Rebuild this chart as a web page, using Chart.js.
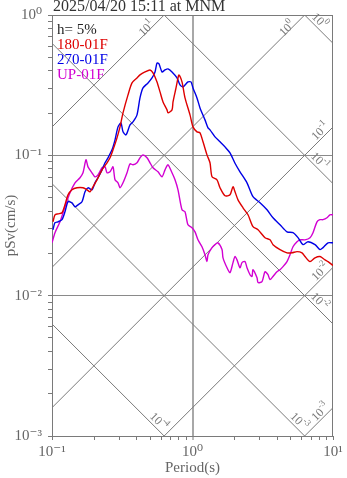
<!DOCTYPE html>
<html>
<head>
<meta charset="utf-8">
<title>pSv spectrum</title>
<script src="https://cdn.jsdelivr.net/npm/chart.js@4/dist/chart.umd.min.js"></script>
<style>
html, body { margin: 0; padding: 0; background: #fff; }
canvas { display: block; }
</style>
</head>
<body>
<canvas id="spectre" width="347" height="478"></canvas>
<script>
// station / event header
var titre = "2025/04/20 15:11 at MNM";
var amortissement = "h= 5%";

// 180-01F component
var periodes180 = [0.1016, 0.1050, 0.1103, 0.1178, 0.1237, 0.1300, 0.1388, 0.1506, 0.1662, 0.1775, 0.1864, 0.1958, 0.2090, 0.2269, 0.2464, 0.2588, 0.2718, 0.2902, 0.3048, 0.3202, 0.3475, 0.3711, 0.4027, 0.4229, 0.4591, 0.4984, 0.5236, 0.5590, 0.5872, 0.6168, 0.6586, 0.6695, 0.7148, 0.7266, 0.7632, 0.7886, 0.8016, 0.8419, 0.8843, 0.9599, 1.008, 1.076, 1.131, 1.188, 1.268, 1.332, 1.377, 1.494, 1.570, 1.704, 1.849, 1.942, 2.007, 2.108, 2.288, 2.483, 2.696, 2.927, 3.281, 3.562, 3.741, 4.196, 4.705, 5.108, 5.544, 6.017, 6.320, 6.861, 7.446, 8.082, 8.773, 9.214, 10.0];
var sv180 = [0.0336, 0.0377, 0.0383, 0.0390, 0.0444, 0.0523, 0.0568, 0.0587, 0.0587, 0.0568, 0.0550, 0.0597, 0.0669, 0.0788, 0.0885, 0.0960, 0.1094, 0.1332, 0.1595, 0.2006, 0.2695, 0.3281, 0.3560, 0.3741, 0.3929, 0.4060, 0.3865, 0.3335, 0.2831, 0.2402, 0.2108, 0.2006, 0.2108, 0.2402, 0.3022, 0.3560, 0.3741, 0.3335, 0.2566, 0.1942, 0.1595, 0.1470, 0.1446, 0.1248, 0.1008, 0.0885, 0.0703, 0.0669, 0.0587, 0.0515, 0.0523, 0.0597, 0.0550, 0.0482, 0.0423, 0.0377, 0.0310, 0.0295, 0.0259, 0.0250, 0.0231, 0.0213, 0.0202, 0.0202, 0.0206, 0.0202, 0.0190, 0.0175, 0.0186, 0.0190, 0.0180, 0.0175, 0.0164];

// 270-01F component
var periodes270 = [0.1016, 0.1050, 0.1103, 0.1178, 0.1237, 0.1300, 0.1388, 0.1458, 0.1531, 0.1635, 0.1718, 0.1804, 0.1926, 0.2023, 0.2125, 0.2269, 0.2384, 0.2504, 0.2673, 0.2809, 0.2950, 0.3098, 0.3202, 0.3363, 0.3591, 0.3771, 0.4027, 0.4229, 0.4443, 0.4823, 0.5150, 0.5410, 0.5590, 0.5777, 0.6068, 0.6373, 0.6695, 0.7148, 0.7758, 0.8147, 0.8558, 0.9290, 0.9757, 1.008, 1.076, 1.131, 1.227, 1.289, 1.332, 1.446, 1.570, 1.704, 1.849, 2.007, 2.178, 2.443, 2.696, 3.023, 3.391, 3.741, 4.196, 4.705, 5.192, 5.636, 6.116, 6.638, 7.446, 8.082, 8.489, 9.214, 10.0];
var sv270 = [0.0295, 0.0331, 0.0336, 0.0348, 0.0396, 0.0467, 0.0459, 0.0430, 0.0444, 0.0467, 0.0550, 0.0587, 0.0568, 0.0637, 0.0692, 0.0788, 0.0885, 0.0960, 0.1094, 0.1289, 0.1595, 0.1703, 0.1470, 0.1399, 0.1648, 0.1731, 0.1942, 0.2566, 0.3022, 0.3281, 0.3560, 0.3929, 0.4553, 0.4479, 0.3929, 0.4060, 0.4127, 0.3929, 0.3560, 0.3175, 0.3073, 0.3335, 0.3335, 0.3022, 0.2566, 0.2178, 0.1789, 0.1569, 0.1518, 0.1354, 0.1248, 0.1149, 0.1041, 0.0878, 0.0763, 0.0637, 0.0507, 0.0459, 0.0409, 0.0359, 0.0320, 0.0285, 0.0281, 0.0259, 0.0231, 0.0242, 0.0231, 0.0213, 0.0220, 0.0238, 0.0238];

// UP-01F component
var periodesUP = [0.100, 0.1050, 0.1140, 0.1237, 0.1343, 0.1458, 0.1582, 0.1662, 0.1746, 0.1804, 0.1926, 0.2023, 0.2125, 0.2269, 0.2384, 0.2464, 0.2588, 0.2718, 0.2809, 0.2950, 0.3048, 0.3202, 0.3419, 0.3591, 0.3771, 0.4027, 0.4229, 0.4443, 0.4745, 0.4984, 0.5236, 0.5683, 0.6068, 0.6373, 0.6695, 0.7148, 0.7508, 0.7886, 0.8419, 0.8843, 0.9290, 0.9918, 1.042, 1.094, 1.168, 1.227, 1.268, 1.289, 1.377, 1.446, 1.519, 1.622, 1.649, 1.761, 1.849, 1.942, 2.007, 2.074, 2.178, 2.251, 2.364, 2.443, 2.567, 2.652, 2.696, 2.879, 2.927, 3.124, 3.281, 3.447, 3.562, 3.741, 3.993, 4.196, 4.407, 4.705, 4.943, 5.192, 5.544, 5.823, 6.320, 6.861, 7.206, 7.693, 8.082, 8.489, 9.065, 9.520, 10.0];
var svUP = [0.0238, 0.0281, 0.0336, 0.0430, 0.0541, 0.0637, 0.0692, 0.0751, 0.0929, 0.0828, 0.0751, 0.0703, 0.0726, 0.0815, 0.0828, 0.0751, 0.0763, 0.0828, 0.0669, 0.0637, 0.0587, 0.0637, 0.0751, 0.0870, 0.0856, 0.0885, 0.0960, 0.1008, 0.0960, 0.0885, 0.0815, 0.0763, 0.0703, 0.0788, 0.0856, 0.0751, 0.0669, 0.0568, 0.0409, 0.0396, 0.0320, 0.0305, 0.0285, 0.0250, 0.0223, 0.0196, 0.0175, 0.0196, 0.0220, 0.0231, 0.0238, 0.0213, 0.0186, 0.0158, 0.0146, 0.0172, 0.0190, 0.0180, 0.0158, 0.0172, 0.0175, 0.0158, 0.0141, 0.0137, 0.0153, 0.0134, 0.0124, 0.0126, 0.0148, 0.0141, 0.0130, 0.0137, 0.0148, 0.0153, 0.0161, 0.0175, 0.0196, 0.0223, 0.0242, 0.0250, 0.0250, 0.0259, 0.0281, 0.0336, 0.0348, 0.0348, 0.0359, 0.0377, 0.0377];

// axis ticks
var ticksPeriode = [0.1, 0.2, 0.3, 0.4, 0.5, 0.6, 0.7, 0.8, 0.9, 1, 2, 3, 4, 5, 6, 7, 8, 9, 10];
var ticksSv = [0.001, 0.002, 0.003, 0.004, 0.005, 0.006, 0.007, 0.008, 0.009,
               0.01, 0.02, 0.03, 0.04, 0.05, 0.06, 0.07, 0.08, 0.09,
               0.1, 0.2, 0.3, 0.4, 0.5, 0.6, 0.7, 0.8, 0.9, 1];

// tripartite guide lines: displacement (cm) and acceleration (cm/s2)
var niveauxDepl = [1e-4, 1e-3, 1e-2, 1e-1, 1];
var niveauxAcc = [1e-3, 1e-2, 1e-1, 1, 10];

var SERIF = '"Liberation Serif", "DejaVu Serif", serif';
var GRIS = '#7a7a7a';
var EXPOSANTS = { '-': '\u207B', '0': '\u2070', '1': '\u00B9', '2': '\u00B2', '3': '\u00B3', '4': '\u2074' };

function estDecade(v) {
    var l = Math.log10(v);
    return Math.abs(l - Math.round(l)) < 1e-6;
}
function puissance(v) {
    var e = String(Math.round(Math.log10(v)));
    return '10' + e.split('').map(function (c) { return EXPOSANTS[c]; }).join('');
}
function points(periodes, valeurs) {
    var res = [];
    for (var i = 0; i < periodes.length; i++) {
        res.push({ x: periodes[i], y: valeurs[i] });
    }
    return res;
}

// draws "10" with a raised exponent, rotated along a guide line
function ecrirePuissance(ctx, x, y, exp, angle) {
    ctx.save();
    ctx.translate(x, y);
    ctx.rotate(angle);
    ctx.fillStyle = GRIS;
    ctx.textBaseline = 'middle';
    ctx.textAlign = 'left';
    ctx.font = '12px ' + SERIF;
    var w1 = ctx.measureText('10').width;
    ctx.font = '9px ' + SERIF;
    var w2 = ctx.measureText(exp).width;
    var x0 = -(w1 + w2) / 2;
    ctx.font = '12px ' + SERIF;
    ctx.fillText('10', x0, 1);
    ctx.font = '9px ' + SERIF;
    ctx.fillText(exp, x0 + w1, -4);
    ctx.restore();
}

var grilleTripartite = {
    id: 'grilleTripartite',
    beforeDatasetsDraw: function (chart) {
        var ctx = chart.ctx;
        var ca = chart.chartArea;
        var sx = chart.scales.x, sy = chart.scales.y;
        var tMin = sx.min, tMax = sx.max, vMin = sy.min, vMax = sy.max;
        var deuxPi = 2 * Math.PI;

        var lignes = [];
        niveauxDepl.forEach(function (d) {
            lignes.push({ sv: function (t) { return deuxPi * d / t; }, niveau: d, type: 'D' });
        });
        niveauxAcc.forEach(function (a) {
            lignes.push({ sv: function (t) { return a * t / deuxPi; }, niveau: a, type: 'A' });
        });

        ctx.save();
        ctx.beginPath();
        ctx.rect(ca.left, ca.top, ca.right - ca.left, ca.bottom - ca.top);
        ctx.clip();
        ctx.strokeStyle = GRIS;
        ctx.lineWidth = 1;
        lignes.forEach(function (l) {
            ctx.beginPath();
            ctx.moveTo(sx.getPixelForValue(tMin), sy.getPixelForValue(l.sv(tMin)));
            ctx.lineTo(sx.getPixelForValue(tMax), sy.getPixelForValue(l.sv(tMax)));
            ctx.stroke();
        });
        ctx.restore();

        // labels near the end where each line leaves the frame
        lignes.forEach(function (l) {
            var finSv = l.sv(tMax);
            var xc, dy;
            if (l.type === 'D') {
                if (finSv >= vMin) {
                    xc = ca.right - 13; dy = 10;
                } else {
                    xc = sx.getPixelForValue(deuxPi * l.niveau / vMin) - 5; dy = 10;
                }
            } else {
                if (finSv <= vMax) {
                    xc = ca.right - 13; dy = 9;
                } else {
                    xc = sx.getPixelForValue(deuxPi * vMax / l.niveau) - 18; dy = 5;
                }
            }
            var t = sx.getValueForPixel(xc);
            var yc = sy.getPixelForValue(l.sv(t));
            var angle = l.type === 'D' ? Math.PI / 4 : -Math.PI / 4;
            ecrirePuissance(ctx, xc, yc - dy, String(Math.round(Math.log10(l.niveau))), angle);
        });

        // frame
        ctx.save();
        ctx.strokeStyle = GRIS;
        ctx.lineWidth = 1;
        ctx.strokeRect(ca.left + 0.5, ca.top + 0.5, ca.right - ca.left - 1, ca.bottom - ca.top);
        ctx.restore();
    },
    afterDraw: function (chart) {
        var ctx = chart.ctx;
        var ca = chart.chartArea;
        ctx.save();
        ctx.textAlign = 'left';
        ctx.textBaseline = 'alphabetic';
        ctx.fillStyle = '#333';
        ctx.font = '16px ' + SERIF;
        ctx.fillText(titre, ca.left + 1, 11);

        ctx.font = '15px ' + SERIF;
        ctx.fillStyle = '#222';
        ctx.fillText(amortissement, ca.left + 5, ca.top + 19);
        chart.data.datasets.forEach(function (ds, i) {
            ctx.fillStyle = ds.borderColor;
            ctx.fillText(ds.label, ca.left + 5, ca.top + 34 + i * 15);
        });
        ctx.restore();
    }
};

var ctx = document.getElementById('spectre').getContext('2d');
var chart = new Chart(ctx, {
    type: 'line',
    data: {
        datasets: [{
            label: '180-01F',
            data: points(periodes180, sv180),
            borderColor: 'rgb(222, 0, 0)'
        }, {
            label: '270-01F',
            data: points(periodes270, sv270),
            borderColor: 'rgb(0, 0, 230)'
        }, {
            label: 'UP-01F',
            data: points(periodesUP, svUP),
            borderColor: 'rgb(210, 0, 210)'
        }]
    },
    options: {
        responsive: false,
        animation: false,
        devicePixelRatio: 1,
        layout: { padding: { top: 15, right: 14, left: 0, bottom: 0 } },
        elements: {
            point: { radius: 0 },
            line: { borderWidth: 1.4, tension: 0.25, fill: false }
        },
        plugins: {
            legend: { display: false },
            title: { display: false },
            tooltip: { enabled: false }
        },
        scales: {
            x: {
                type: 'logarithmic',
                min: 0.1,
                max: 10,
                afterBuildTicks: function (s) {
                    s.ticks = ticksPeriode.map(function (v) { return { value: v, major: estDecade(v) }; });
                },
                afterFit: function (s) { s.height = 42; },
                border: { display: false },
                grid: {
                    color: function (c) { return c.tick && c.tick.value === 1 ? '#a8a8a8' : 'rgba(0,0,0,0)'; },
                    lineWidth: function (c) { return c.tick && c.tick.value === 1 ? 2 : 1; },
                    tickColor: GRIS,
                    tickWidth: 1,
                    tickLength: 4
                },
                ticks: {
                    autoSkip: false,
                    maxRotation: 0,
                    padding: 3,
                    color: '#666',
                    font: { family: SERIF, size: 15 },
                    callback: function (v) { return estDecade(v) ? puissance(v) : ''; }
                },
                title: {
                    display: true,
                    text: 'Period(s)',
                    color: '#666',
                    font: { family: SERIF, size: 15 },
                    padding: { top: 0, bottom: 1 }
                }
            },
            y: {
                type: 'logarithmic',
                min: 0.001,
                max: 1,
                afterBuildTicks: function (s) {
                    s.ticks = ticksSv.map(function (v) { return { value: v, major: estDecade(v) }; });
                },
                afterFit: function (s) { s.width = 52; },
                border: { display: false },
                grid: {
                    color: function (c) {
                        var v = c.tick && c.tick.value;
                        return (v === 0.1 || v === 0.01) ? '#8a8a8a' : 'rgba(0,0,0,0)';
                    },
                    lineWidth: 1,
                    tickColor: GRIS,
                    tickWidth: 1,
                    tickLength: 4
                },
                ticks: {
                    autoSkip: false,
                    padding: 6,
                    color: '#666',
                    font: { family: SERIF, size: 15 },
                    callback: function (v) { return estDecade(v) ? puissance(v) : ''; }
                },
                title: {
                    display: true,
                    text: 'pSv(cm/s)',
                    color: '#666',
                    font: { family: SERIF, size: 15 },
                    padding: { top: 2, bottom: 0 }
                }
            }
        }
    },
    plugins: [grilleTripartite]
});
</script>
</body>
</html>
